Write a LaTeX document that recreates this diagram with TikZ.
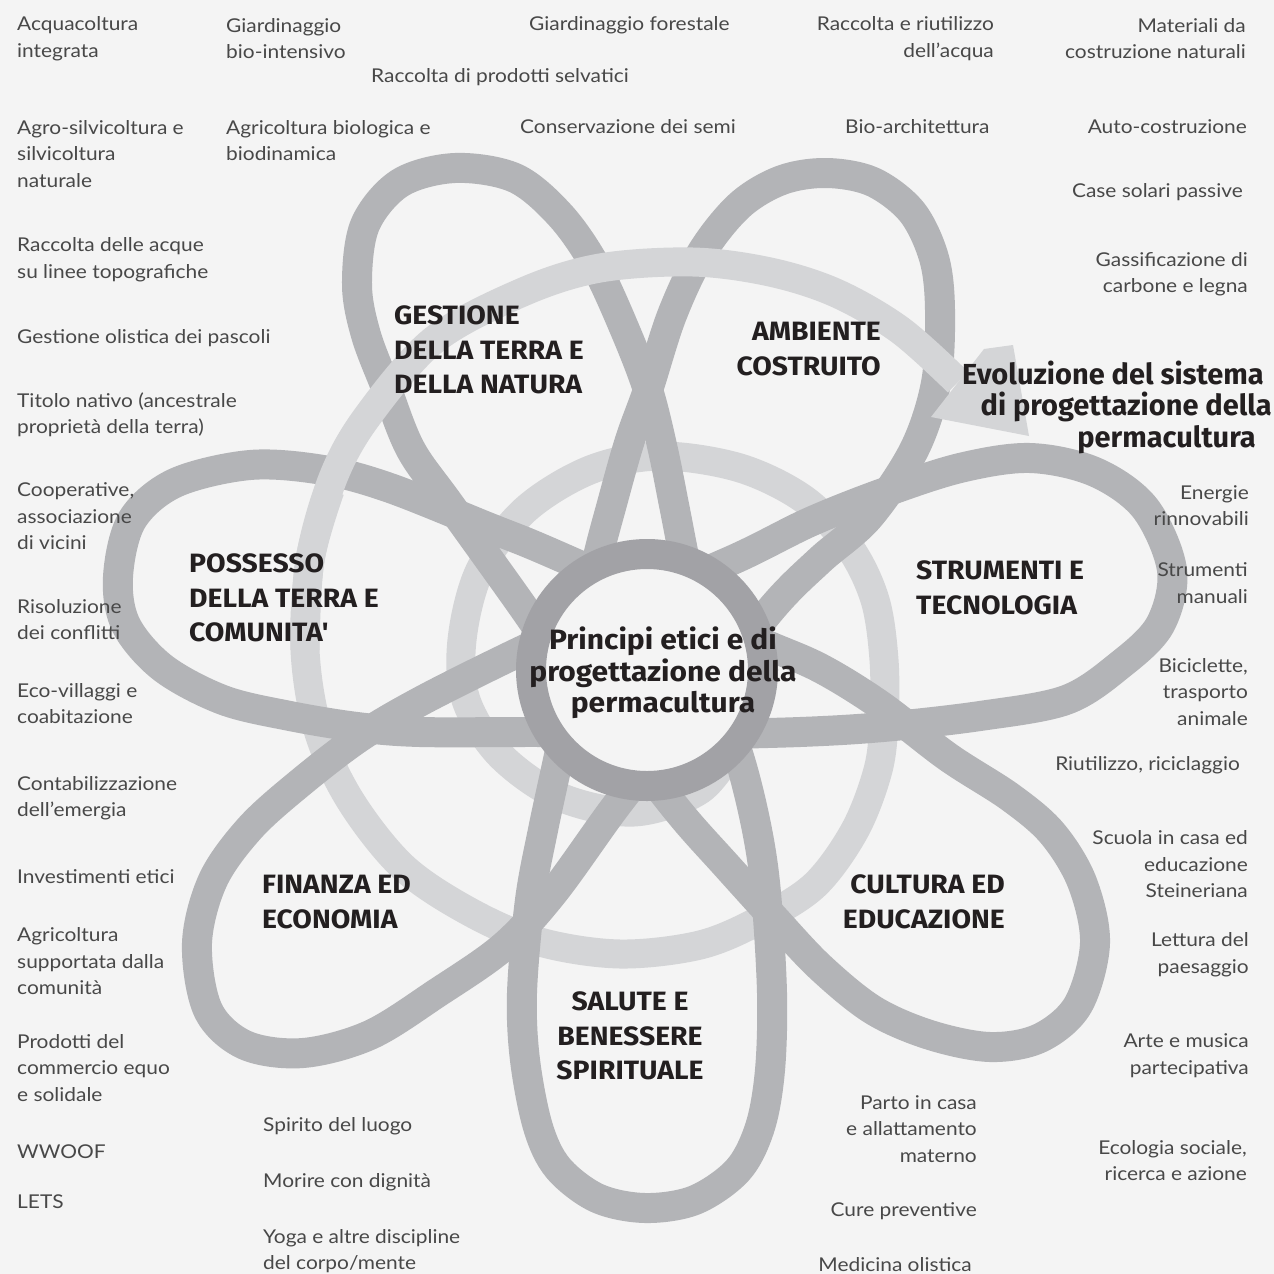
\documentclass[tikz,border=0pt]{standalone}
\usepackage{fontspec}
\setmainfont{Lato}[FakeStretch=1.1]
\newfontfamily\headfont{Fira Sans}
\newfontfamily\wideheadfont[FakeStretch=1.07]{Fira Sans}
\definecolor{paper}{HTML}{F4F4F4}
\definecolor{petalgray}{HTML}{B3B4B7}
\definecolor{spiralgray}{HTML}{D4D5D7}
\definecolor{hubgray}{HTML}{A2A2A6}
\definecolor{ink}{HTML}{231F20}
\definecolor{softink}{HTML}{484848}
\tikzset{
  petalband/.style={draw=petalgray, line width=30pt, line cap=butt, line join=round},
  spiralband/.style={draw=spiralgray, line width=29pt, line cap=butt, line join=round},
  small/.style={font=\fontsize{19}{26.5}\selectfont, text=softink, inner sep=0pt},
  smallL/.style={small, anchor=west, align=left},
  smallR/.style={small, anchor=east, align=right},
  head/.style={font=\wideheadfont\bfseries\fontsize{26.5}{34.5}\selectfont, text=ink, inner sep=0pt},
}
\begin{document}
\begin{tikzpicture}[x=1pt,y=-1pt]
\fill[paper] (0,0) rectangle (1274,1274);
\useasboundingbox (0,0) rectangle (1274,1274);

% spiral: inner turn and lower outer turn (beneath the petals)
\draw[spiralband] plot[smooth, tension=0.55] coordinates {
 (735,745) (700,790) (634,812) (560,797) (500,755) (466,700) (462,640) (480,570)
 (525,510) (590,470) (660,456) (740,468) (805,500) (850,548) (875,600) (884,660)
 (884,720) (878,770) (855,830) (815,885) (760,920) (700,945) (620,954) (540,942)
 (470,912) (403,867) (350,800) (318,730) (305,650) (310,560) (330,490)};

% petals
\draw[petalband] plot[smooth, tension=0.55] coordinates {% strumenti
 (627,605) (737,558) (810,522) (883,493) (960,468) (1030,458) (1095,472) (1145,508)
 (1172,570) (1160,625) (1120,665) (1066,700) (980,716) (883,727) (800,732) (680,735)};
\draw[petalband] plot[smooth, tension=0.55] coordinates {% possesso
 (640,733) (540,732) (420,732) (357,727) (290,716) (223,700) (163,668) (126,625)
 (118,577) (132,520) (175,483) (250,465) (323,470) (390,488) (490,528) (540,548) (640,592)};
\draw[petalband] plot[smooth, tension=0.55] coordinates {% cultura
 (660,597) (760,642) (820,668) (880,705) (948,757) (1010,797) (1052,833) (1082,882)
 (1095,943) (1078,1005) (1040,1038) (990,1047) (930,1035) (873,1010) (820,967)
 (773,917) (725,864) (683,817) (630,750)};
\draw[petalband] plot[smooth, tension=0.55] coordinates {% gestione
 (630,755) (580,690) (523,607) (450,505) (411,450) (387,390) (366,335) (357,285)
 (365,225) (400,183) (455,168) (515,178) (560,215) (595,265) (625,330) (648,390)
 (663,450) (675,510) (688,575) (705,640)};
\draw[petalband] plot[smooth, tension=0.55] coordinates {% salute
 (712,680) (740,760) (757,830) (766,893) (772,993) (770,1070) (760,1127) (738,1170)
 (695,1200) (645,1208) (597,1198) (558,1168) (538,1127) (525,1060) (522,993)
 (530,900) (543,830) (558,760) (577,670)};
\draw[petalband] plot[smooth, tension=0.55] coordinates {% ambiente
 (577,670) (595,570) (613,500) (630,440) (648,390) (672,315) (702,252) (740,205)
 (782,180) (827,173) (873,182) (912,212) (934,258) (940,310) (936,383) (914,450)
 (869,517) (820,560) (773,607) (700,700)};
\draw[petalband] plot[smooth, tension=0.55] coordinates {% finanza
 (700,700) (660,750) (613,810) (553,893) (503,947) (437,993) (370,1035) (303,1053)
 (245,1045) (208,1010) (197,943) (213,880) (250,828) (300,783) (360,737) (423,700)
 (517,653) (600,615)};

% spiral: upper outer turn over the petals, ending in the arrow
\draw[spiralband] plot[smooth, tension=0.55] coordinates {
 (305,650) (310,560) (333,478) (367,417) (434,340) (523,292) (600,268) (693,262)
 (770,272) (836,293) (900,330) (958,382)};
\fill[spiralgray] (984,349) -- (1013,345) -- (1029,436) -- (931,417) -- cycle;

% hub
\fill[paper] (647,670) circle[radius=102pt];
\draw[hubgray, line width=30pt] (647,670) circle[radius=116pt];
\node[font=\wideheadfont\bfseries\fontsize{28}{31.5}\selectfont, text=ink, align=center, inner sep=0pt]
  (hub) at (663,673) {Principi etici e di\\progettazione della\\permacultura};

% title of the spiral
\node[font=\headfont\bfseries\fontsize{29}{31.5}\selectfont, text=ink, align=right, anchor=east, inner sep=0pt]
  (evol) at (1272,407) {Evoluzione del sistema\hspace*{8pt}\\di progettazione della\\permacultura\hspace*{16pt}};

% petal titles
\node[head, anchor=west, align=left] (gest) at (394,350) {GESTIONE\\DELLA TERRA E\\DELLA NATURA};
\node[head, anchor=east, align=right] (amb) at (881,349) {AMBIENTE\\COSTRUITO};
\node[head, anchor=west, align=left] (strum) at (916,588) {STRUMENTI E\\TECNOLOGIA};
\node[head, anchor=east, align=right] (cult) at (1005,902) {CULTURA ED\\EDUCAZIONE};
\node[head, align=center] (sal) at (630,1036) {SALUTE E\\BENESSERE\\SPIRITUALE};
\node[head, anchor=west, align=left] (fin) at (262,902) {FINANZA ED\\ECONOMIA};
\node[head, anchor=west, align=left] (poss) at (189,598) {POSSESSO\\DELLA TERRA E\\COMUNITA'};

% fields: top rows
\node[smallL] (t1) at (17,38.5) {Acquacoltura\\integrata};
\node[smallL] (t2) at (226,38.5) {Giardinaggio\\bio-intensivo};
\node[smallL] (t3) at (529,25) {Giardinaggio forestale};
\node[smallR] (t4) at (994,38.5) {Raccolta e riutilizzo\\dell'acqua};
\node[smallR] (t5) at (1246,38.5) {Materiali da\\costruzione naturali};
\node[smallL] (t6) at (371,77) {Raccolta di prodotti selvatici};
\node[smallL] (t7) at (17,154) {Agro-silvicoltura e\\silvicoltura\\naturale};
\node[smallL] (t8) at (226,140.5) {Agricoltura biologica e\\biodinamica};
\node[smallL] (t9) at (520,127) {Conservazione dei semi};
\node[smallL] (t10) at (845,127) {Bio-architettura};
\node[smallR] (t11) at (1247,127) {Auto-costruzione};
\node[smallR] (t12) at (1243,192) {Case solari passive};
\node[smallR] (t13) at (1248,274) {Gassificazione di\\carbone e legna};

% fields: left column
\node[smallL] (l1) at (17,259.5) {Raccolta delle acque\\su linee topografiche};
\node[smallL] (l2) at (17,338) {Gestione olistica dei pascoli};
\node[smallL] (l3) at (17,415) {Titolo nativo (ancestrale\\proprietà della terra)};
\node[smallL] (l4) at (17,516.5) {Cooperative,\\associazione\\di vicini};
\node[smallL] (l5) at (17,619.5) {Risoluzione\\dei conflitti};
\node[smallL] (l6) at (17,703.5) {Eco-villaggi e\\coabitazione};
\node[smallL] (l7) at (17,798) {Contabilizzazione\\dell'emergia};
\node[smallL] (l8) at (17,877) {Investimenti etici};
\node[smallL] (l9) at (17,961.5) {Agricoltura\\supportata dalla\\comunità};
\node[smallL] (l10) at (17,1068) {Prodotti del\\commercio equo\\e solidale};
\node[smallL] (l11) at (17,1152) {WWOOF};
\node[smallL] (l12) at (17,1202) {LETS};

% fields: bottom
\node[smallL] (b1) at (263,1126) {Spirito del luogo};
\node[smallL] (b2) at (263,1182) {Morire con dignità};
\node[smallL] (b3) at (263,1251) {Yoga e altre discipline\\del corpo/mente};
\node[smallR] (b4) at (977,1129) {Parto in casa\\e allattamento\\materno};
\node[smallR] (b5) at (977,1211) {Cure preventive};
\node[smallR] (b6) at (972,1265) {Medicina olistica};

% fields: right column
\node[smallR] (r1) at (1249,505.5) {Energie\\rinnovabili};
\node[smallR] (r2) at (1248,583) {Strumenti\\manuali};
\node[smallR] (r3) at (1248,692) {Biciclette,\\trasporto\\animale};
\node[smallR] (r4) at (1240,765) {Riutilizzo, riciclaggio};
\node[smallR] (r5) at (1248,864.5) {Scuola in casa ed\\educazione\\Steineriana};
\node[smallR] (r6) at (1249,954.5) {Lettura del\\paesaggio};
\node[smallR] (r7) at (1249,1055.5) {Arte e musica\\partecipativa};
\node[smallR] (r8) at (1247,1160.5) {Ecologia sociale,\\ricerca e azione};
\end{tikzpicture}
\end{document}
